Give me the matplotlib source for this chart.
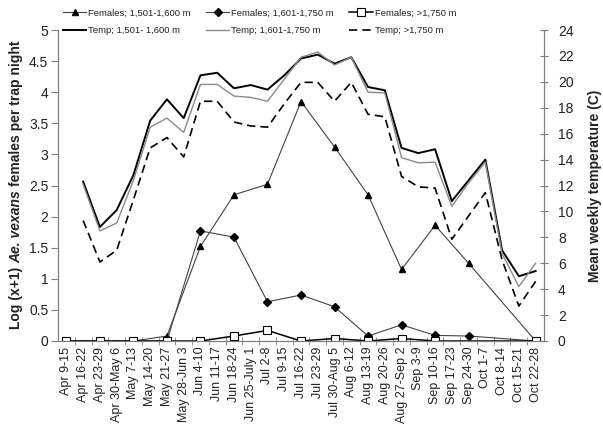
import numpy as np
import matplotlib
matplotlib.use('Agg')
import matplotlib.pyplot as plt
from matplotlib.ticker import MultipleLocator, FixedLocator, FuncFormatter

plt.rcParams['font.family'] = ['Liberation Sans', 'DejaVu Sans']

# weekly trap periods
weeks = ['Apr 9-15', 'Apr 16-22', 'Apr 23-29', 'Apr 30-May 6', 'May 7-13', 'May 14-20',
         'May 21-27', 'May 28-Jun 3', 'Jun 4-10', 'Jun 11-17', 'Jun 18-24', 'Jun 25-July 1',
         'Jul 2-8', 'Jul 9-15', 'Jul 16-22', 'Jul 23-29', 'Jul 30-Aug 5', 'Aug 6-12',
         'Aug 13-19', 'Aug 20-26', 'Aug 27-Sep 2', 'Sep 3-9', 'Sep 10-16', 'Sep 17-23',
         'Sep 24-30', 'Oct 1-7', 'Oct 8-14', 'Oct 15-21', 'Oct 22-28']

# log(x+1) females per trap night (None = not sampled)
fem_1501 = [0, None, 0, None, 0, None, 0.08, None, 1.52, None, 2.35, None, 2.52, None,
            3.85, None, 3.12, None, 2.35, None, 1.15, None, 1.86, None, 1.25, None, None, None, 0]
fem_1601 = [0, None, 0, None, 0, None, 0, None, 1.77, None, 1.67, None, 0.63, None,
            0.74, None, 0.55, None, 0.08, None, 0.26, None, 0.09, None, 0.08, None, None, None, 0]
fem_1750 = [0, None, 0, None, 0, None, 0, None, 0, None, 0.08, None, 0.17, None,
            0, None, 0.04, None, 0, None, 0.04, None, 0, None, None, None, None, None, 0]

# mean weekly temperature (C)
temp_1501 = [None, 12.3, 8.8, 10.1, 12.8, 17.0, 18.65, 17.2, 20.5, 20.7, 19.5, 19.75, 19.4, 20.5,
             21.8, 22.1, 21.4, 21.9, 19.6, 19.35, 14.9, 14.5, 14.8, 10.8, 12.4, 14.0, 7.0, 5.0, 5.4]
temp_1601 = [None, 12.1, 8.5, 9.1, 12.4, 16.5, 17.2, 16.1, 19.8, 19.8, 18.9, 18.8, 18.5, 20.2,
             21.9, 22.3, 21.3, 21.9, 19.2, 19.15, 14.15, 13.75, 13.8, 10.4, 12.2, 13.8, 6.75, 4.2, 6.0]
temp_1750 = [None, 9.3, 6.1, 7.0, 10.9, 14.9, 15.7, 14.2, 18.5, 18.5, 16.9, 16.6, 16.5, 18.3,
             19.96, 19.96, 18.5, 19.96, 17.5, 17.3, 12.7, 11.9, 11.8, 7.85, 9.65, 11.45, 6.25, 2.7, 4.6]


def valid(series):
    # drop missing weeks so the line joins the sampled points
    x = np.array([i for i, v in enumerate(series) if v is not None])
    y = np.array([v for v in series if v is not None])
    return x, y


axis_col = '#7f7f7f'
text_col = '#222222'

fig = plt.figure(figsize=(6.03, 4.3), dpi=100)
ax = fig.add_axes([58 / 603, 1 - 341 / 430, (544 - 58) / 603, (341 - 30) / 430])
ax2 = ax.twinx()

h = []
x, y = valid(fem_1501)
h += ax.plot(x, y, color='#444444', lw=0.8, marker='^', ms=5, mfc='black', mec='black',
             label='Females; 1,501-1,600 m')
x, y = valid(fem_1601)
h += ax.plot(x, y, color='#444444', lw=0.8, marker='D', ms=3.6, mfc='black', mec='black',
             label='Females; 1,601-1,750 m')
x, y = valid(fem_1750)
h += ax.plot(x, y, color='black', lw=1.1, marker='s', ms=5.5, mfc='white', mec='black', mew=0.8,
             label='Females; >1,750 m')

x, y = valid(temp_1501)
h += ax2.plot(x, y, color='black', lw=1.4, label='Temp; 1,501- 1,600 m')
x, y = valid(temp_1601)
h += ax2.plot(x, y, color='#8a8a8a', lw=1.0, label='Temp; 1,601-1,750 m')
x, y = valid(temp_1750)
h += ax2.plot(x, y, color='black', lw=1.2, ls=(0, (5, 3)), label='Temp; >1,750 m')

ax.set_xlim(-0.5, len(weeks) - 0.5)
ax.set_ylim(0, 5)
ax2.set_ylim(0, 24)
ax.yaxis.set_major_locator(MultipleLocator(0.5))
ax.yaxis.set_major_formatter(FuncFormatter(lambda v, p: '%g' % v))
ax2.yaxis.set_major_locator(MultipleLocator(2))

ax.set_xticks(range(len(weeks)))
ax.set_xticklabels(weeks, rotation=90, fontsize=9, color=text_col)
ax.tick_params(axis='x', which='major', length=0, pad=4)
ax.xaxis.set_minor_locator(FixedLocator(np.arange(0.5, len(weeks) - 0.5, 1)))
ax.tick_params(axis='x', which='minor', length=6, direction='inout', color=axis_col)
ax.tick_params(axis='y', length=5, direction='out', color=axis_col, labelsize=10,
               labelcolor=text_col, pad=2)
ax2.tick_params(axis='y', length=6, direction='inout', color=axis_col, labelsize=10,
                labelcolor=text_col, pad=7)

for a in (ax, ax2):
    a.spines['top'].set_visible(False)
    for s in ('left', 'right', 'bottom'):
        a.spines[s].set_color(axis_col)
        a.spines[s].set_linewidth(0.8)

ax2.set_ylabel('Mean weekly temperature (C)', fontsize=10, fontweight='bold',
               color=text_col, labelpad=10)

# left label has an italic species name in the middle
fig.canvas.draw()
r = fig.canvas.get_renderer()
parts = [('Log (x+1)', 'normal'), ('Ae. vexans', 'italic'), ('females per trap night', 'normal')]
fs = 10
gap = fs * 100 / 72 * 0.278
texts = []
total = 0
for s, st in parts:
    t = fig.text(0, 0, s, fontsize=fs, fontweight='bold', style=st, color=text_col,
                 rotation=90, rotation_mode='anchor', ha='left', va='baseline')
    ext = t.get_window_extent(r)
    texts.append((t, ext.height))
    total += ext.height
total += gap * (len(parts) - 1)
ypos = (430 - 185) - total / 2
for t, hgt in texts:
    t.set_position((20 / 603, ypos / 430))
    ypos += hgt + gap

leg = fig.legend([h[0], h[3], h[1], h[4], h[2], h[5]],
                 [h[0].get_label(), h[3].get_label(), h[1].get_label(),
                  h[4].get_label(), h[2].get_label(), h[5].get_label()],
                 ncol=3, loc='upper left', bbox_to_anchor=(0.09, 1.0), frameon=False,
                 fontsize=6.8, handlelength=2.5, handletextpad=0.2, columnspacing=1.6,
                 labelspacing=0.9, numpoints=1)
for t in leg.get_texts():
    t.set_color(text_col)

fig.savefig('out.png', dpi=100)
